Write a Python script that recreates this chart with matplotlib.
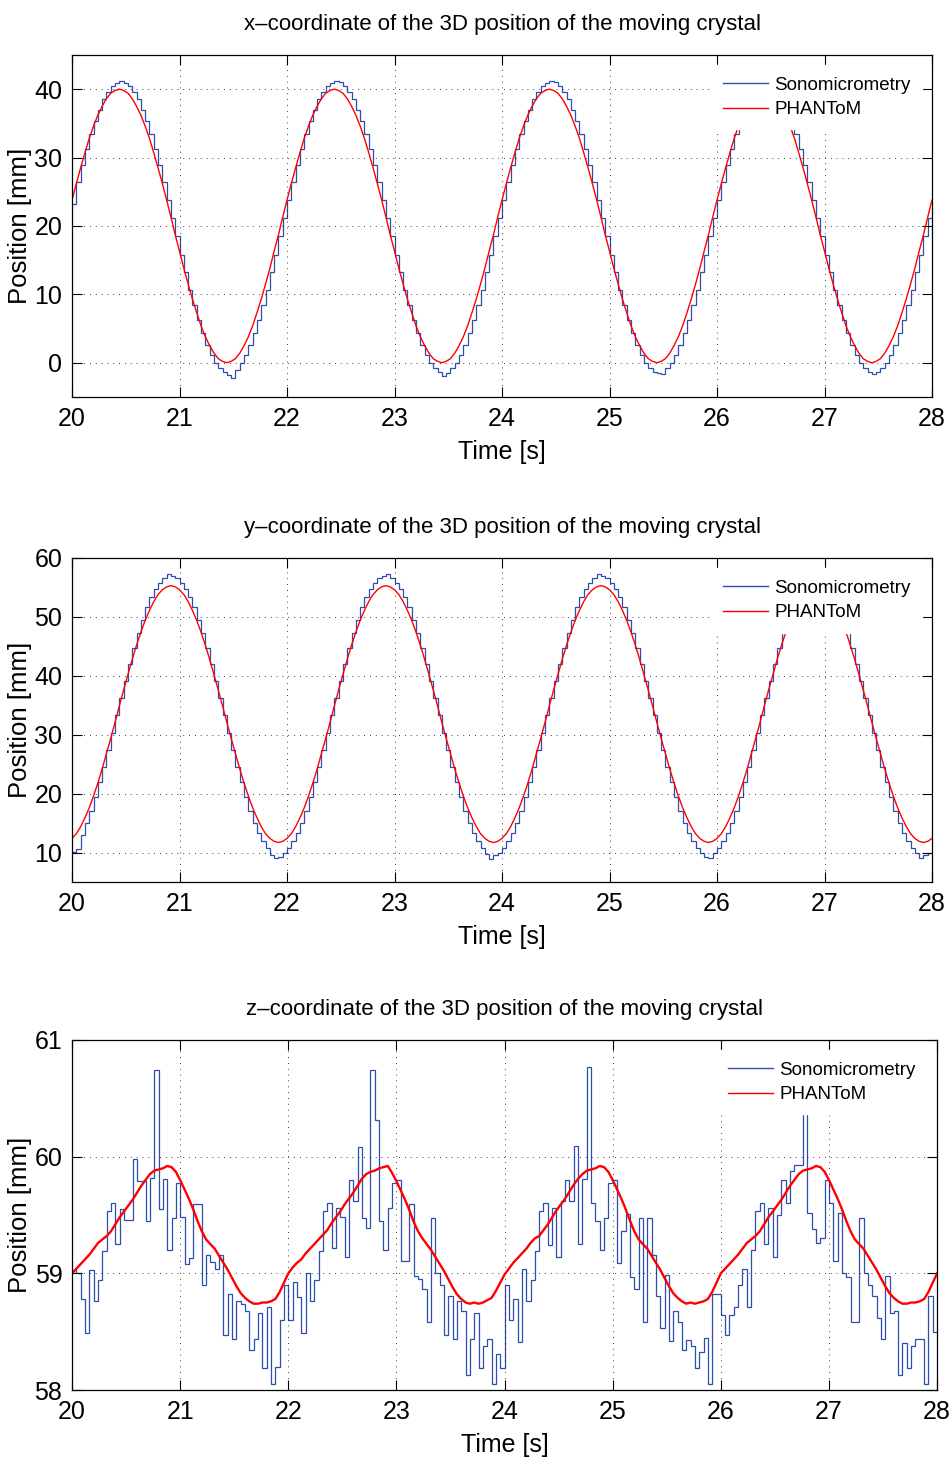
#!/usr/bin/env python3

"""
Sonomicrometry vs PHANToM position of the moving crystal (x, y, z),
three stacked MATLAB-style panels saved as out.png.
"""

import numpy as np
import matplotlib

matplotlib.use("Agg")
import matplotlib.pyplot as plt


plt.rcParams["font.family"] = ["Liberation Sans", "DejaVu Sans"]

T_START = 20.0
T_END = 28.0
N_SAMPLES = 200  # 25 Hz sonomicrometry updates over 8 s

X_TICKS = [20, 21, 22, 23, 24, 25, 26, 27, 28]

# ---- x-coordinate [mm] ----
X_SONO = [
    23.2, 26.4, 28.9, 31.2, 33.4, 35.3, 37.0, 38.5, 39.6, 40.4,
    40.9, 41.2, 40.9, 40.4, 39.6, 38.5, 37.0, 35.3, 33.4, 31.2,
    28.9, 26.4, 23.8, 21.1, 18.5, 15.8, 13.2, 10.7, 8.4, 6.2,
    4.3, 2.6, 1.1, 0.0, -0.8, -1.4, -1.8, -2.2, -1.0, 0.0,
    1.1, 2.6, 4.3, 6.2, 8.4, 10.7, 13.2, 15.8, 18.5, 21.1,
    23.8, 26.4, 28.9, 31.2, 33.4, 35.3, 37.0, 38.5, 39.6, 40.4,
    40.9, 41.2, 41.0, 40.4, 39.6, 38.5, 37.0, 35.3, 33.4, 31.2,
    28.9, 26.4, 23.8, 21.1, 18.5, 15.8, 13.2, 10.7, 8.4, 6.2,
    4.3, 2.6, 1.1, 0.0, -0.8, -1.3, -2.0, -1.5, -0.8, 0.0,
    1.1, 2.6, 4.3, 6.2, 8.4, 10.7, 13.2, 15.8, 18.5, 21.1,
    23.8, 26.4, 28.9, 31.2, 33.4, 35.3, 37.0, 38.5, 39.6, 40.4,
    40.9, 41.2, 41.1, 40.4, 39.6, 38.5, 37.0, 35.3, 33.4, 31.2,
    28.9, 26.4, 23.8, 21.1, 18.5, 15.8, 13.2, 10.7, 8.4, 6.2,
    4.3, 2.6, 1.1, 0.0, -0.8, -1.3, -1.5, -1.6, -0.8, 0.0,
    1.1, 2.6, 4.3, 6.2, 8.4, 10.7, 13.2, 15.8, 18.5, 21.1,
    23.8, 26.4, 28.9, 31.2, 33.4, 35.3, 37.0, 38.5, 39.6, 40.4,
    40.9, 41.1, 40.9, 40.4, 39.6, 38.5, 37.0, 35.3, 33.4, 31.2,
    28.9, 26.4, 23.8, 21.1, 18.5, 15.8, 13.2, 10.7, 8.4, 6.2,
    4.3, 2.6, 1.1, 0.0, -0.8, -1.3, -1.6, -1.4, -0.8, 0.0,
    1.1, 2.6, 4.3, 6.2, 8.4, 10.7, 13.2, 15.8, 18.5, 21.1,
]

X_PHANTOM = [
    23.8, 26.2, 28.5, 30.7, 32.8, 34.6, 36.2, 37.5, 38.6, 39.4,
    39.8, 40.0, 39.8, 39.4, 38.6, 37.5, 36.2, 34.6, 32.8, 30.7,
    28.5, 26.2, 23.8, 21.3, 18.7, 16.3, 13.8, 11.5, 9.3, 7.3,
    5.4, 3.8, 2.5, 1.4, 0.6, 0.2, 0.0, 0.2, 0.6, 1.4,
    2.5, 3.8, 5.4, 7.3, 9.3, 11.5, 13.8, 16.3, 18.7, 21.3,
    23.8, 26.2, 28.5, 30.7, 32.8, 34.6, 36.2, 37.5, 38.6, 39.4,
    39.8, 40.0, 39.8, 39.4, 38.6, 37.5, 36.2, 34.6, 32.8, 30.7,
    28.5, 26.2, 23.8, 21.3, 18.7, 16.3, 13.8, 11.5, 9.3, 7.3,
    5.4, 3.8, 2.5, 1.4, 0.6, 0.2, 0.0, 0.2, 0.6, 1.4,
    2.5, 3.8, 5.4, 7.3, 9.3, 11.5, 13.8, 16.3, 18.7, 21.3,
    23.8, 26.2, 28.5, 30.7, 32.8, 34.6, 36.2, 37.5, 38.6, 39.4,
    39.8, 40.0, 39.8, 39.4, 38.6, 37.5, 36.2, 34.6, 32.8, 30.7,
    28.5, 26.2, 23.8, 21.3, 18.7, 16.3, 13.8, 11.5, 9.3, 7.3,
    5.4, 3.8, 2.5, 1.4, 0.6, 0.2, 0.0, 0.2, 0.6, 1.4,
    2.5, 3.8, 5.4, 7.3, 9.3, 11.5, 13.8, 16.3, 18.7, 21.3,
    23.8, 26.2, 28.5, 30.7, 32.8, 34.6, 36.2, 37.5, 38.6, 39.4,
    39.8, 40.0, 39.8, 39.4, 38.6, 37.5, 36.2, 34.6, 32.8, 30.7,
    28.5, 26.2, 23.8, 21.3, 18.7, 16.3, 13.8, 11.5, 9.3, 7.3,
    5.4, 3.8, 2.5, 1.4, 0.6, 0.2, 0.0, 0.2, 0.6, 1.4,
    2.5, 3.8, 5.4, 7.3, 9.3, 11.5, 13.8, 16.3, 18.7, 21.3,
    23.8,
]

# ---- y-coordinate [mm] ----
Y_SONO = [
    10.1, 10.6, 12.9, 15.0, 17.1, 19.4, 21.9, 24.6, 27.4, 30.3,
    33.3, 36.3, 39.2, 42.0, 44.7, 47.2, 49.5, 51.6, 53.3, 54.7,
    55.8, 56.6, 57.2, 57.0, 56.6, 55.8, 54.7, 53.3, 51.6, 49.5,
    47.2, 44.7, 42.0, 39.2, 36.3, 33.3, 30.3, 27.4, 24.6, 21.9,
    19.4, 17.1, 15.0, 13.3, 11.9, 10.8, 9.6, 9.0, 9.3, 9.9,
    10.8, 11.9, 13.3, 15.0, 17.1, 19.4, 21.9, 24.6, 27.4, 30.3,
    33.3, 36.3, 39.2, 42.0, 44.7, 47.2, 49.5, 51.6, 53.3, 54.7,
    55.8, 56.6, 57.0, 57.2, 56.6, 55.8, 54.7, 53.3, 51.6, 49.5,
    47.2, 44.7, 42.0, 39.2, 36.3, 33.3, 30.3, 27.4, 24.6, 21.9,
    19.4, 17.1, 15.0, 13.3, 11.9, 10.8, 9.8, 8.9, 9.5, 10.0,
    10.8, 11.9, 13.3, 15.0, 17.1, 19.4, 21.9, 24.6, 27.4, 30.3,
    33.3, 36.3, 39.2, 42.0, 44.7, 47.2, 49.5, 51.6, 53.3, 54.7,
    55.8, 56.6, 57.3, 57.0, 56.6, 55.8, 54.7, 53.3, 51.6, 49.5,
    47.2, 44.7, 42.0, 39.2, 36.3, 33.3, 30.3, 27.4, 24.6, 21.9,
    19.4, 17.1, 15.0, 13.3, 11.9, 10.8, 10.0, 9.2, 9.0, 10.0,
    10.8, 11.9, 13.3, 15.0, 17.1, 19.4, 21.9, 24.6, 27.4, 30.3,
    33.3, 36.3, 39.2, 42.0, 44.7, 47.2, 49.5, 51.6, 53.3, 54.7,
    55.8, 56.6, 57.0, 57.0, 56.6, 55.8, 54.7, 53.3, 51.6, 49.5,
    47.2, 44.7, 42.0, 39.2, 36.3, 33.3, 30.3, 27.4, 24.6, 21.9,
    19.4, 17.1, 15.0, 13.3, 11.9, 10.8, 10.0, 9.0, 9.6, 10.0,
]

Y_PHANTOM = [
    12.4, 13.2, 14.4, 15.9, 17.6, 19.6, 21.8, 24.2, 26.8, 29.4,
    32.1, 34.9, 37.6, 40.2, 42.8, 45.2, 47.4, 49.4, 51.1, 52.6,
    53.8, 54.6, 55.1, 55.3, 55.1, 54.6, 53.8, 52.6, 51.1, 49.4,
    47.4, 45.2, 42.8, 40.2, 37.6, 34.9, 32.1, 29.4, 26.8, 24.2,
    21.8, 19.6, 17.6, 15.9, 14.4, 13.2, 12.4, 11.9, 11.7, 11.9,
    12.4, 13.2, 14.4, 15.9, 17.6, 19.6, 21.8, 24.2, 26.8, 29.4,
    32.1, 34.9, 37.6, 40.2, 42.8, 45.2, 47.4, 49.4, 51.1, 52.6,
    53.8, 54.6, 55.1, 55.3, 55.1, 54.6, 53.8, 52.6, 51.1, 49.4,
    47.4, 45.2, 42.8, 40.2, 37.6, 34.9, 32.1, 29.4, 26.8, 24.2,
    21.8, 19.6, 17.6, 15.9, 14.4, 13.2, 12.4, 11.9, 11.7, 11.9,
    12.4, 13.2, 14.4, 15.9, 17.6, 19.6, 21.8, 24.2, 26.8, 29.4,
    32.1, 34.9, 37.6, 40.2, 42.8, 45.2, 47.4, 49.4, 51.1, 52.6,
    53.8, 54.6, 55.1, 55.3, 55.1, 54.6, 53.8, 52.6, 51.1, 49.4,
    47.4, 45.2, 42.8, 40.2, 37.6, 34.9, 32.1, 29.4, 26.8, 24.2,
    21.8, 19.6, 17.6, 15.9, 14.4, 13.2, 12.4, 11.9, 11.7, 11.9,
    12.4, 13.2, 14.4, 15.9, 17.6, 19.6, 21.8, 24.2, 26.8, 29.4,
    32.1, 34.9, 37.6, 40.2, 42.8, 45.2, 47.4, 49.4, 51.1, 52.6,
    53.8, 54.6, 55.1, 55.3, 55.1, 54.6, 53.8, 52.6, 51.1, 49.4,
    47.4, 45.2, 42.8, 40.2, 37.6, 34.9, 32.1, 29.4, 26.8, 24.2,
    21.8, 19.6, 17.6, 15.9, 14.4, 13.2, 12.4, 11.9, 11.7, 11.9,
    12.4,
]

# ---- z-coordinate [mm] ----
Z_SONO = [
    59.03, 59.00, 58.78, 58.49, 59.03, 58.76, 58.94, 59.19, 59.53, 59.60,
    59.25, 59.55, 59.46, 59.46, 59.98, 59.79, 59.79, 59.45, 59.82, 60.74,
    59.55, 59.81, 59.20, 59.47, 59.77, 59.48, 59.08, 59.13, 59.59, 59.59,
    58.90, 59.16, 59.10, 59.04, 59.16, 58.47, 58.82, 58.44, 58.76, 58.74,
    58.68, 58.34, 58.44, 58.66, 58.19, 58.71, 58.05, 58.20, 58.60, 58.90,
    58.60, 58.93, 58.80, 58.49, 59.00, 58.76, 58.94, 59.19, 59.53, 59.60,
    59.22, 59.56, 59.48, 59.14, 59.80, 59.62, 60.08, 59.47, 59.39, 60.74,
    60.31, 59.45, 59.20, 59.56, 59.77, 59.80, 59.11, 59.11, 59.59, 58.98,
    58.95, 58.87, 58.58, 59.47, 59.00, 58.90, 58.47, 58.81, 58.44, 58.76,
    58.68, 58.13, 58.44, 58.66, 58.19, 58.38, 58.44, 58.05, 58.31, 58.19,
    58.90, 58.60, 58.78, 58.41, 59.04, 58.76, 58.94, 59.19, 59.53, 59.60,
    59.24, 59.56, 59.14, 59.62, 59.80, 59.62, 60.09, 59.25, 59.81, 60.77,
    59.60, 59.45, 59.20, 59.47, 59.77, 59.80, 59.09, 59.36, 59.51, 58.97,
    58.87, 59.47, 58.58, 59.47, 59.16, 58.81, 58.53, 58.99, 58.42, 58.68,
    58.58, 58.34, 58.43, 58.38, 58.19, 58.33, 58.45, 58.05, 58.82, 58.82,
    58.64, 58.47, 58.64, 58.71, 58.90, 59.04, 58.71, 59.20, 59.53, 59.60,
    59.25, 59.56, 59.14, 59.50, 59.80, 59.60, 59.88, 59.93, 59.93, 60.75,
    59.52, 59.38, 59.26, 59.30, 59.80, 59.60, 59.11, 59.52, 59.00, 58.97,
    58.58, 58.58, 59.47, 59.00, 58.90, 58.81, 58.62, 58.44, 58.98, 58.66,
    58.68, 58.13, 58.40, 58.19, 58.38, 58.44, 58.44, 58.05, 58.81, 58.50,
]

Z_PHANTOM = [
    59.00, 59.04, 59.08, 59.12, 59.16, 59.21, 59.26, 59.29, 59.32, 59.36,
    59.42, 59.48, 59.53, 59.58, 59.63, 59.69, 59.75, 59.80, 59.85, 59.88,
    59.89, 59.90, 59.92, 59.91, 59.87, 59.80, 59.72, 59.64, 59.55, 59.45,
    59.36, 59.29, 59.25, 59.21, 59.15, 59.09, 59.03, 58.96, 58.89, 58.83,
    58.79, 58.76, 58.74, 58.74, 58.75, 58.75, 58.76, 58.78, 58.84, 58.92,
    59.00, 59.05, 59.09, 59.12, 59.17, 59.21, 59.25, 59.29, 59.33, 59.37,
    59.43, 59.48, 59.53, 59.59, 59.64, 59.69, 59.75, 59.81, 59.85, 59.87,
    59.88, 59.90, 59.91, 59.92, 59.86, 59.79, 59.71, 59.63, 59.54, 59.44,
    59.36, 59.30, 59.25, 59.20, 59.14, 59.08, 59.02, 58.95, 58.88, 58.82,
    58.78, 58.75, 58.74, 58.75, 58.74, 58.75, 58.77, 58.79, 58.85, 58.92,
    58.99, 59.04, 59.09, 59.13, 59.17, 59.21, 59.26, 59.30, 59.32, 59.37,
    59.42, 59.48, 59.54, 59.59, 59.64, 59.70, 59.76, 59.81, 59.85, 59.88,
    59.89, 59.90, 59.92, 59.91, 59.87, 59.80, 59.72, 59.64, 59.55, 59.45,
    59.36, 59.29, 59.25, 59.21, 59.15, 59.09, 59.03, 58.96, 58.89, 58.83,
    58.79, 58.76, 58.74, 58.75, 58.74, 58.75, 58.76, 58.78, 58.84, 58.92,
    59.00, 59.04, 59.08, 59.12, 59.16, 59.21, 59.26, 59.29, 59.32, 59.36,
    59.42, 59.48, 59.53, 59.58, 59.63, 59.69, 59.75, 59.80, 59.85, 59.88,
    59.89, 59.90, 59.92, 59.91, 59.87, 59.80, 59.72, 59.64, 59.55, 59.45,
    59.36, 59.29, 59.25, 59.21, 59.15, 59.09, 59.03, 58.96, 58.89, 58.83,
    58.79, 58.76, 58.74, 58.74, 58.75, 58.75, 58.76, 58.78, 58.84, 58.92,
    59.00,
]

PANELS = [
    {
        "title": "x\u2013coordinate of the 3D position of the moving crystal",
        "sono": X_SONO, "phantom": X_PHANTOM,
        "ylim": (-5, 45), "yticks": [0, 10, 20, 30, 40],
        "rect": [0.0756, 0.7296, 0.9024, 0.2330], "red_lw": 1.0,
    },
    {
        "title": "y\u2013coordinate of the 3D position of the moving crystal",
        "sono": Y_SONO, "phantom": Y_PHANTOM,
        "ylim": (5, 60), "yticks": [10, 20, 30, 40, 50, 60],
        "rect": [0.0756, 0.3992, 0.9024, 0.2207], "red_lw": 1.0,
    },
    {
        "title": "z\u2013coordinate of the 3D position of the moving crystal",
        "sono": Z_SONO, "phantom": Z_PHANTOM,
        "ylim": (58, 61), "yticks": [58, 59, 60, 61],
        "rect": [0.0756, 0.0531, 0.9077, 0.2385], "red_lw": 1.7,
    },
]

BLUE = "#2c4fae"
RED = "#ff0000"


def draw_panel(fig, spec, edges, t_red):
    ax = fig.add_axes(spec["rect"])

    ax.stairs(spec["sono"], edges, baseline=None, color=BLUE, lw=0.9,
              label="Sonomicrometry")
    ax.plot(t_red, spec["phantom"], color=RED, lw=spec["red_lw"], label="PHANToM")

    ax.set_xlim(T_START, T_END)
    ax.set_ylim(*spec["ylim"])
    ax.set_xticks(X_TICKS)
    ax.set_yticks(spec["yticks"])

    ax.grid(True, linestyle=(0, (1, 6)), color="black", linewidth=0.6)
    ax.tick_params(direction="in", top=True, right=True, length=7, width=0.8,
                   labelsize=18, pad=7)
    for sp in ax.spines.values():
        sp.set_linewidth(0.9)

    ax.set_title(spec["title"], fontsize=16, pad=18)
    ax.set_xlabel("Time [s]", fontsize=18, labelpad=7)
    ax.set_ylabel("Position [mm]", fontsize=18.5, labelpad=1.5)

    leg = ax.legend(loc="upper right", fontsize=13.5, frameon=True, fancybox=False,
                    handlelength=2.4, handletextpad=0.35, borderaxespad=0.55,
                    borderpad=0.6, labelspacing=0.4)
    leg.get_frame().set_edgecolor("white")
    leg.get_frame().set_facecolor("white")
    leg.get_frame().set_alpha(1.0)
    for handle in leg.get_lines():
        handle.set_linewidth(1.0)
    return ax


def main() -> None:
    fig = plt.figure(figsize=(9.53, 14.68), dpi=100)

    edges = np.linspace(T_START, T_END, N_SAMPLES + 1)
    t_red = np.linspace(T_START, T_END, N_SAMPLES + 1)

    for spec in PANELS:
        draw_panel(fig, spec, edges, t_red)

    fig.savefig("out.png", dpi=100)
    plt.close(fig)


if __name__ == "__main__":
    main()
